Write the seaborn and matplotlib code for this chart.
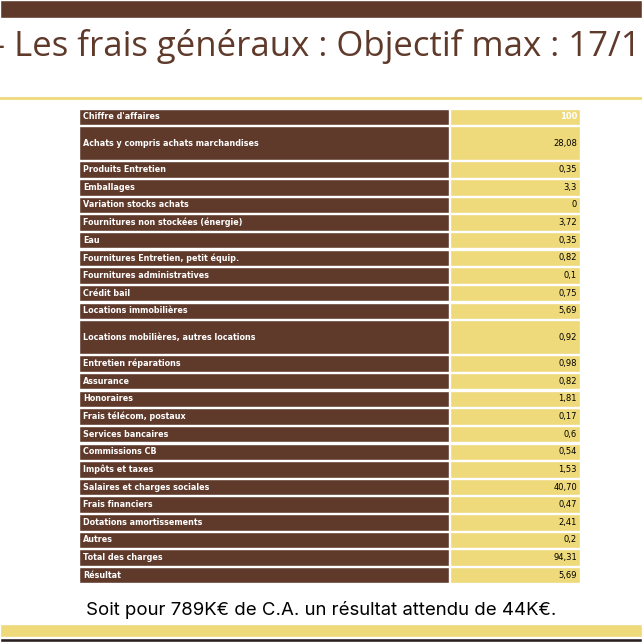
import matplotlib
matplotlib.use("Agg")
import matplotlib.pyplot as plt
import seaborn as sns

sns.set_style("white")

BROWN = "#5f3a2b"
YELLOW = "#eed97b"

labels = [
    "Chiffre d'affaires", "Achats y compris achats marchandises", "Produits Entretien",
    "Emballages", "Variation stocks achats", "Fournitures non stockées (énergie)", "Eau",
    "Fournitures Entretien, petit équip.", "Fournitures administratives", "Crédit bail",
    "Locations immobilières", "Locations mobilières, autres locations",
    "Entretien réparations", "Assurance", "Honoraires", "Frais télécom, postaux",
    "Services bancaires", "Commissions CB", "Impôts et taxes",
    "Salaires et charges sociales", "Frais financiers", "Dotations amortissements",
    "Autres", "Total des charges", "Résultat",
]
values = ["100", "28,08", "0,35", "3,3", "0", "3,72", "0,35", "0,82", "0,1", "0,75",
          "5,69", "0,92", "0,98", "0,82", "1,81", "0,17", "0,6", "0,54", "1,53",
          "40,70", "0,47", "2,41", "0,2", "94,31", "5,69"]
row_units = [1, 2, 1, 1, 1, 1, 1, 1, 1, 1, 1, 2, 1, 1, 1, 1, 1, 1, 1, 1, 1, 1, 1, 1, 1]

W = H = 642
fig = plt.figure(figsize=(6.42, 6.42), dpi=100)
ax = fig.add_axes([0, 0, 1, 1])
ax.set_xlim(0, W)
ax.set_ylim(H, 0)
ax.axis("off")

# slide decoration
ax.barh(9, W, height=18, left=0, color=BROWN)
ax.plot([0, W], [98, 98], color=YELLOW, lw=2)
ax.barh(630.5, W, height=13, left=0, color=YELLOW)
ax.barh(640, W, height=4, left=0, color="#2a2020")

# slide title, clipped at both edges like the original slide
ax.text(-6, 46, "- Les frais généraux : Objectif max : 17/18", fontsize=25,
        color=BROWN, va="center", ha="left", family="Open Sans")

# table
top, bottom = 108, 584
unit = (bottom - top) / sum(row_units)
y = top
for lab, val, u in zip(labels, values, row_units):
    h = u * unit
    c = y + h / 2
    ax.barh(c, 370, height=h - 1.2, left=79, color=BROWN)
    ax.barh(c, 130, height=h - 1.2, left=450, color=YELLOW)
    ax.text(83, c, lab, fontsize=5.8, fontweight="bold", color="white",
            va="center", family="Liberation Sans Narrow")
    ax.text(577, c, val, fontsize=6, color="white" if val == "100" else "black",
            fontweight="bold" if val == "100" else "normal",
            va="center", ha="right", family="Liberation Sans Narrow")
    y += h

ax.text(321, 610, "Soit pour 789K€ de C.A. un résultat attendu de 44K€.", fontsize=13.4,
        color="black", va="center", ha="center", family="Inter")

fig.savefig("out.png", dpi=100)
